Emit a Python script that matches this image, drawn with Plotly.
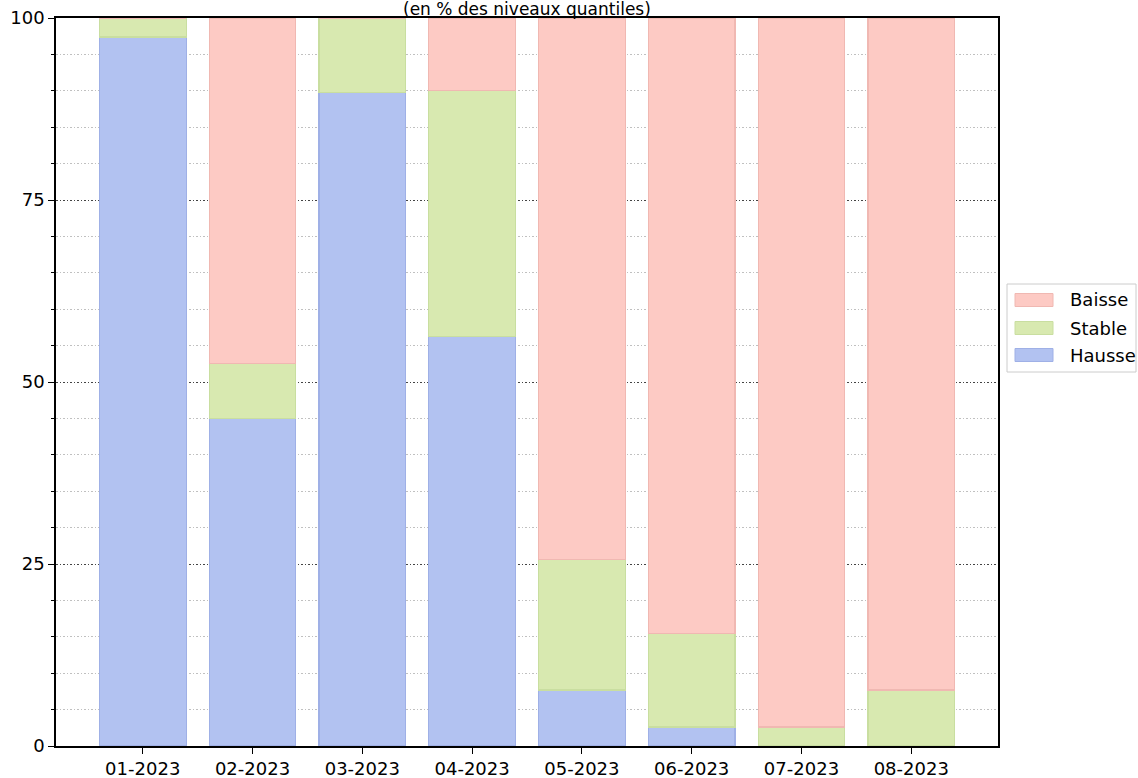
import plotly.graph_objects as go

categories = ["01-2023", "02-2023", "03-2023", "04-2023", "05-2023", "06-2023", "07-2023", "08-2023"]
hausse = [97.4, 45.0, 89.8, 56.3, 7.7, 2.6, 0.0, 0.0]
stable = [2.6, 7.5, 10.2, 33.7, 17.9, 12.8, 2.6, 7.7]
baisse = [0.0, 47.5, 0.0, 10.0, 74.4, 84.6, 97.4, 92.3]
y_ticks = [0, 25, 50, 75, 100]
title_text = "(en % des niveaux quantiles)"

W, H = 1138, 778
ML, MR, MT, MB = 56, 140, 18, 32
PW, PH = W - ML - MR, H - MT - MB

def px_x(p):
    return (p - ML) / PW

def px_y(p):
    return (H - MB - p) / PH

x = list(range(len(categories)))
fig = go.Figure()
series = [
    ("Hausse", hausse, "#b2c2f1", "#9fb0e6"),
    ("Stable", stable, "#d8e9b0", "#c9dea0"),
    ("Baisse", baisse, "#fdcac4", "#f0b8b2"),
]
for name, vals, col, edge in series:
    fig.add_trace(go.Bar(
        x=x, y=vals, name=name, width=0.79,
        marker=dict(color=col, line=dict(color=edge, width=1.2)),
    ))

# custom legend (matplotlib-style patches)
shapes = [dict(
    type="rect", xref="paper", yref="paper",
    x0=px_x(1007), x1=px_x(1136), y0=px_y(372), y1=px_y(284),
    line=dict(color="#cccccc", width=1), fillcolor="white", layer="above",
)]
annotations = [dict(
    text=title_text, xref="paper", yref="paper", x=0.5, y=1.0,
    yshift=9, xanchor="center", yanchor="middle",
    showarrow=False, font=dict(size=17),
)]
legend_rows = [(300, series[2]), (328, series[1]), (355, series[0])]
for cy, (name, _, col, edge) in legend_rows:
    shapes.append(dict(
        type="rect", xref="paper", yref="paper",
        x0=px_x(1015), x1=px_x(1053), y0=px_y(cy + 6.5), y1=px_y(cy - 6.5),
        line=dict(color=edge, width=1), fillcolor=col, layer="above",
    ))
    annotations.append(dict(
        text=name, xref="paper", yref="paper", x=px_x(1068), y=px_y(cy),
        xanchor="left", yanchor="middle", showarrow=False, font=dict(size=18),
    ))

fig.update_layout(
    barmode="stack",
    width=W, height=H,
    margin=dict(l=ML, r=MR, t=MT, b=MB),
    plot_bgcolor="white", paper_bgcolor="white",
    font=dict(family="DejaVu Sans", size=18, color="black"),
    showlegend=False,
    shapes=shapes,
    annotations=annotations,
)
fig.update_xaxes(
    range=[-0.79, 7.79], automargin=False,
    tickmode="array", tickvals=x, ticktext=categories,
    showline=True, linecolor="black", linewidth=1.5, mirror=True,
    ticks="outside", ticklen=6, tickwidth=1.2, tickcolor="black",
    showgrid=False, zeroline=False,
)
fig.update_yaxes(
    range=[0, 100], automargin=False,
    tickmode="array", tickvals=y_ticks,
    showline=True, linecolor="black", linewidth=1.5, mirror=True,
    ticks="outside", ticklen=6, tickwidth=1.2, tickcolor="black",
    showgrid=True, gridcolor="#444444", griddash="1.5px,2px", gridwidth=1,
    minor=dict(dtick=5, showgrid=True, gridcolor="#c0c0c0", griddash="1.5px,2px",
               gridwidth=1, ticks="outside", ticklen=3, tickcolor="black"),
    zeroline=False,
    layer="above traces",
)
fig.write_html(
    "out.html",
    config={"displayModeBar": False},
    post_script="document.body.style.margin='0px';",
)
